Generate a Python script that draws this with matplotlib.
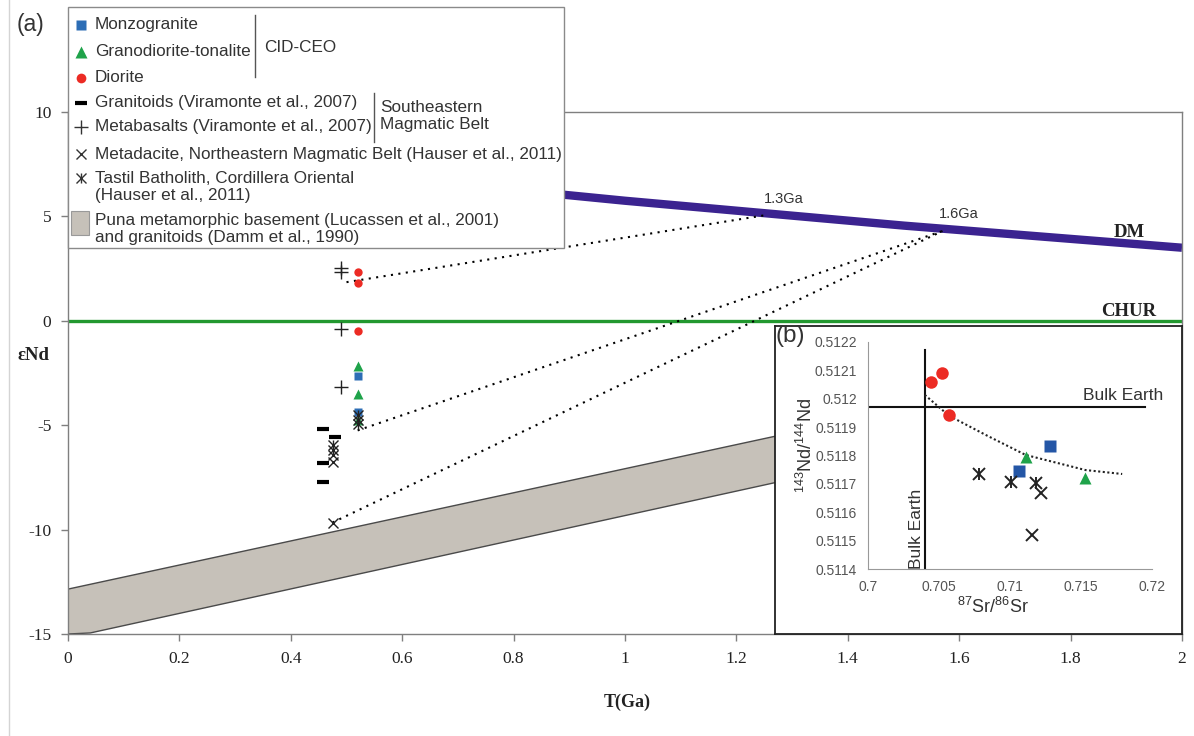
import numpy as np
import matplotlib
matplotlib.use("Agg")
from matplotlib import pyplot as plt
from matplotlib.lines import Line2D
from matplotlib.ticker import FormatStrFormatter
import matplotlib.patches as patches

plt.rcParams['font.family'] = ['Liberation Sans', 'DejaVu Sans']
plt.rcParams['mathtext.fontset'] = 'custom'
plt.rcParams['mathtext.rm'] = 'Liberation Sans'
plt.rcParams['mathtext.it'] = 'Liberation Sans:italic'

W, H = 1194, 736

# ---- (a) eNd vs T(Ga) ----
dm_t = [0.0, 0.5, 1.0, 1.5, 2.0]
dm_e = [8.5, 7.06, 5.75, 4.56, 3.5]
chur_t = [0.0, 2.0]
chur_e = [0.0, 0.0]

# Puna basement field (outline, goes on behind the inset)
band_t = [0.0, 0.04, 1.5, 1.5, 0.0]
band_e = [-15.0, -14.95, -6.4, -4.2, -12.85]

monzo_t = [0.52, 0.52]
monzo_e = [-2.63, -4.37]
grano_t = [0.52, 0.52, 0.52]
grano_e = [-2.15, -3.49, -4.74]
dior_t = [0.52, 0.52, 0.52]
dior_e = [2.33, 1.80, -0.51]
granitoid_t = [0.458, 0.479, 0.458, 0.458]
granitoid_e = [-5.17, -5.58, -6.81, -7.72]
metabas_t = [0.491, 0.491, 0.491, 0.491]
metabas_e = [2.52, 2.33, -0.38, -3.19]
metadac_t = [0.475, 0.475, 0.475]
metadac_e = [-6.45, -6.75, -9.66]
tastil_t = [0.475, 0.475, 0.52, 0.52, 0.52]
tastil_e = [-5.95, -6.2, -4.5, -4.75, -4.95]

# model age tie lines: sample -> DM
tie_t = [[0.50, 1.25], [0.52, 1.57], [0.475, 1.57]]
tie_e = [[1.85, 5.05], [-5.25, 4.3], [-9.66, 4.3]]
age_labels = ['1.3Ga', '1.6Ga']
age_label_t = [1.285, 1.60]
age_label_e = [5.85, 5.1]

# ---- (b) Nd vs Sr ----
b_dior_sr = [0.70447, 0.70522, 0.70569]
b_dior_nd = [0.51206, 0.51209, 0.511942]
b_monzo_sr = [0.71282, 0.71066]
b_monzo_nd = [0.511835, 0.511746]
b_grano_sr = [0.71113, 0.71529]
b_grano_nd = [0.511796, 0.511722]
b_tastil_sr = [0.70781, 0.71009, 0.71181]
b_tastil_nd = [0.511735, 0.511706, 0.511702]
b_metadac_sr = [0.71219, 0.71158]
b_metadac_nd = [0.511667, 0.511521]
mix_sr = [0.7040, 0.7057, 0.7083, 0.7111, 0.7153, 0.7179]
mix_nd = [0.512013, 0.51194, 0.511872, 0.511802, 0.511749, 0.511735]
bulk_sr = 0.7040
bulk_nd = 0.51197

legend_labels = ['Monzogranite', 'Granodiorite-tonalite', 'Diorite',
                 'Granitoids (Viramonte et al., 2007)',
                 'Metabasalts (Viramonte et al., 2007)',
                 'Metadacite, Northeastern Magmatic Belt (Hauser et al., 2011)',
                 'Tastil Batholith, Cordillera Oriental\n(Hauser et al., 2011)',
                 'Puna metamorphic basement (Lucassen et al., 2001)\nand granitoids (Damm et al., 1990)']

red = '#EC2B24'
blue = '#2C6DB5'
blue_b = '#2456A6'
green = '#1FA34A'
LFS = 12.3


def fxy(x, y):
    # pixel -> figure fraction
    return x / W, 1 - y / H


fig = plt.figure(figsize=(W / 100, H / 100), dpi=100)
fig.patch.set_facecolor('white')
fig.add_artist(Line2D([9 / W, 9 / W], [0, 1], color='#d4d4d4', lw=1))

ax = fig.add_axes([68 / W, 1 - 634 / H, (1182 - 68) / W, (634 - 112) / H])
ax.set_xlim(0, 2)
ax.set_ylim(-15, 10)
ax.fill(band_t, band_e, facecolor='#C6C1B9', edgecolor='#4a4a4a', lw=1, zorder=1)
ax.plot(dm_t, dm_e, color='#3B2390', lw=6, solid_capstyle='butt', zorder=2)
ax.plot(chur_t, chur_e, color='#22982F', lw=2.4, zorder=2)
for tt, ee in zip(tie_t, tie_e):
    ax.plot(tt, ee, color='k', lw=1.5, linestyle=(0, (1, 2.6)), zorder=3)
for lab, tt, ee in zip(age_labels, age_label_t, age_label_e):
    ax.text(tt, ee, lab, fontsize=10.5, color='#333333', ha='center', va='center')
ax.text(1.905, 4.25, 'DM', family='Liberation Serif', fontweight='bold', fontsize=13.5,
        color='#222222', ha='center', va='center')
ax.text(1.905, 0.45, 'CHUR', family='Liberation Serif', fontweight='bold', fontsize=13.5,
        color='#222222', ha='center', va='center')

ax.plot(granitoid_t, granitoid_e, '_', color='k', ms=9, mew=3, ls='none', zorder=4)
ax.plot(metabas_t, metabas_e, '+', color='#222222', ms=10, mew=1, ls='none', zorder=4)
ax.plot(metadac_t, metadac_e, 'x', color='#222222', ms=7, mew=1, ls='none', zorder=4)
ax.plot(tastil_t, tastil_e, 'x', color='#222222', ms=7, mew=1, ls='none', zorder=5)
ax.plot(tastil_t, tastil_e, '|', color='#222222', ms=7, mew=1, ls='none', zorder=5)
ax.plot(dior_t, dior_e, 'o', color=red, ms=6, mec='none', ls='none', zorder=4)
ax.plot(grano_t, grano_e, '^', color=green, ms=6.5, mec='none', ls='none', zorder=4)
ax.plot(monzo_t, monzo_e, 's', color=blue, ms=6, mec='none', ls='none', zorder=4)

ax.set_xticks(np.arange(0, 2.01, 0.2))
ax.set_yticks(np.arange(-15, 10.1, 5))
ax.xaxis.set_major_formatter(FormatStrFormatter('%g'))
ax.yaxis.set_major_formatter(FormatStrFormatter('%g'))
for lab in ax.get_xticklabels() + ax.get_yticklabels():
    lab.set_family('Liberation Serif')
    lab.set_fontsize(12.5)
    lab.set_color('#222222')
ax.tick_params(direction='out', length=5, width=1, color='#7f7f7f', pad=7)
for s in ax.spines.values():
    s.set_color('#7f7f7f')
    s.set_linewidth(1)

fig.text(*fxy(627, 702), 'T(Ga)', family='Liberation Serif', fontweight='bold',
         fontsize=13, ha='center', va='center', color='#222222')
fig.text(*fxy(33, 356), '\u03b5Nd', family='Liberation Serif', fontweight='bold',
         fontsize=13.5, ha='center', va='center', color='#222222')
fig.text(*fxy(31, 25), '(a)', fontsize=16.5, ha='center', va='center', color='#333333')

# legend box
x0, y0 = fxy(68, 248)
fig.add_artist(patches.Rectangle((x0, y0), (564 - 68) / W, (248 - 7) / H,
                                 transform=fig.transFigure, facecolor='white',
                                 edgecolor='#8a8a8a', lw=1, zorder=5))
row_y = [25, 52, 78, 103, 127, 154, 187, 229]
mk = [dict(marker='s', color=blue, ms=7, mec='none'),
      dict(marker='^', color=green, ms=8, mec='none'),
      dict(marker='o', color=red, ms=7, mec='none'),
      dict(marker='_', color='k', ms=9, mew=3),
      dict(marker='+', color='#333333', ms=10, mew=1),
      dict(marker='x', color='#333333', ms=7, mew=1),
      None, None]
for lab, yy, m in zip(legend_labels, row_y, mk):
    fig.text(*fxy(95, yy), lab, fontsize=LFS, color='#333333', ha='left', va='center',
             linespacing=1.1, zorder=6)
    if m is not None:
        fig.add_artist(Line2D([81 / W], [1 - yy / H], ls='none', zorder=6, **m))
fig.add_artist(Line2D([81 / W], [1 - 178 / H], ls='none', marker='x', color='#333333',
                      ms=7, mew=1, zorder=6))
fig.add_artist(Line2D([81 / W], [1 - 178 / H], ls='none', marker='|', color='#333333',
                      ms=7, mew=1, zorder=6))
px, py = fxy(71, 235)
fig.add_artist(patches.Rectangle((px, py), 18 / W, 24 / H, transform=fig.transFigure,
                                 facecolor='#C6C1B9', edgecolor='#999999', lw=0.8, zorder=6))
fig.add_artist(Line2D([255 / W, 255 / W], [1 - 15 / H, 1 - 77 / H], color='#555555', lw=1, zorder=6))
fig.text(*fxy(264, 48), 'CID-CEO', fontsize=LFS, color='#333333', va='center', zorder=6)
fig.add_artist(Line2D([374 / W, 374 / W], [1 - 93 / H, 1 - 142 / H], color='#555555', lw=1, zorder=6))
fig.text(*fxy(380, 116), 'Southeastern\nMagmatic Belt', fontsize=LFS, color='#333333',
         va='center', linespacing=1.1, zorder=6)

# ---- inset (b) ----
axf = fig.add_axes([775 / W, 1 - 634 / H, (1182 - 775) / W, (634 - 326) / H], zorder=6)
axf.set_xticks([])
axf.set_yticks([])
axf.set_facecolor('white')
for s in axf.spines.values():
    s.set_color('#222222')
    s.set_linewidth(1.3)
fig.text(*fxy(790, 336), '(b)', fontsize=17.5, color='#333333', ha='center', va='center', zorder=8)

axb = fig.add_axes([868 / W, 1 - 569.3 / H, (1152 - 868) / W, (569.3 - 341.7) / H], zorder=7)
axb.set_facecolor('none')
axb.set_xlim(0.7, 0.72)
axb.set_ylim(0.5114, 0.5122)
axb.set_xticks([0.7, 0.705, 0.71, 0.715, 0.72])
axb.set_yticks(np.arange(0.5114, 0.51221, 0.0001))
axb.xaxis.set_major_formatter(FormatStrFormatter('%g'))
axb.yaxis.set_major_formatter(FormatStrFormatter('%g'))
axb.tick_params(length=0, labelsize=10, labelcolor='#555555', pad=8)
axb.spines['top'].set_visible(False)
axb.spines['right'].set_visible(False)
axb.spines['left'].set_color('#999999')
axb.spines['bottom'].set_color('#999999')

axb.plot([0.7, 0.7195], [bulk_nd, bulk_nd], color='#111111', lw=1.5, zorder=2)
axb.plot([bulk_sr, bulk_sr], [0.5114, 0.51217], color='#111111', lw=1.5, zorder=2)
axb.text(0.7208, 0.51201, 'Bulk Earth', fontsize=12.5, color='#333333', ha='right', va='center',
         clip_on=False)
axb.text(0.70345, 0.5114, 'Bulk Earth', fontsize=12.5, color='#333333', ha='center', va='bottom',
         rotation=90)
axb.plot(mix_sr, mix_nd, color='#222222', lw=1.5, linestyle=(0, (1, 1.2)), zorder=3)
axb.plot(b_dior_sr, b_dior_nd, 'o', color=red, ms=9, mec='none', ls='none', zorder=4)
axb.plot(b_monzo_sr, b_monzo_nd, 's', color=blue_b, ms=9, mec='none', ls='none', zorder=4)
axb.plot(b_grano_sr, b_grano_nd, '^', color=green, ms=9, mec='none', ls='none', zorder=4)
axb.plot(b_tastil_sr, b_tastil_nd, 'x', color='#222222', ms=9, mew=1.4, ls='none', zorder=4)
axb.plot(b_tastil_sr, b_tastil_nd, '|', color='#222222', ms=8, mew=1.4, ls='none', zorder=4)
axb.plot(b_metadac_sr, b_metadac_nd, 'x', color='#222222', ms=9, mew=1.4, ls='none', zorder=4)
axb.set_ylabel('$^{143}$Nd/$^{144}$Nd', fontsize=13, color='#333333')
axb.set_xlabel('$^{87}$Sr/$^{86}$Sr', fontsize=13, color='#333333')
axb.yaxis.set_label_coords((806 - 868) / (1152 - 868), (569.3 - 445) / (569.3 - 341.7))
axb.xaxis.set_label_coords((993 - 868) / (1152 - 868), -(607 - 569.3) / (569.3 - 341.7))
axb.xaxis.label.set_va('center')
axb.yaxis.label.set_va('center')

plt.savefig('out.png', dpi=100)
